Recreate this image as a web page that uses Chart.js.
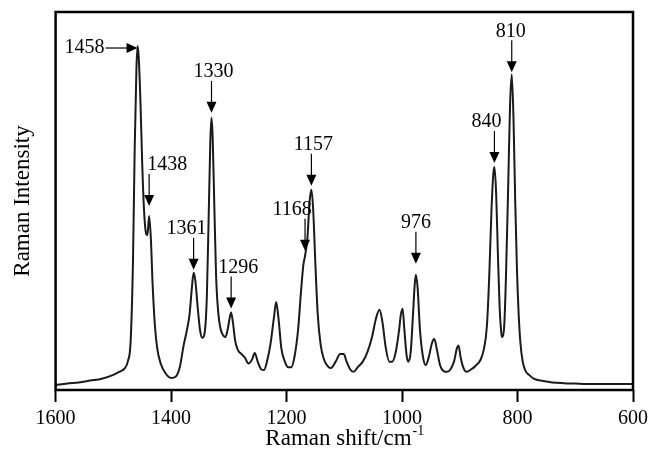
<!DOCTYPE html>
<html>
<head>
<meta charset="utf-8">
<script src="https://cdn.jsdelivr.net/npm/chart.js@4.4.0/dist/chart.umd.min.js"></script>
<style>
  body { margin: 0; background: #fff; }
  #spectrum { display: block; }
</style>
</head>
<body>
<canvas id="spectrum" width="649" height="452"></canvas>
<script>
// Raman spectrum, shift in cm-1 and relative intensity
const shifts = [
  1600, 1580, 1560, 1540, 1520, 1500, 1490, 1480, 1475, 1470, 1466, 1463, 1460, 1458, 1456,
  1453, 1450, 1447, 1444, 1441, 1438, 1435, 1432, 1428, 1424, 1418, 1410, 1400, 1392, 1385,
  1378, 1373, 1368, 1364, 1361, 1358, 1354, 1350, 1346, 1342, 1338, 1335, 1332, 1330, 1328,
  1325, 1322, 1318, 1314, 1310, 1306, 1302, 1298, 1296, 1293, 1289, 1284, 1278, 1272, 1266,
  1260, 1255, 1250, 1244, 1239, 1234, 1228, 1222, 1218, 1214, 1209, 1203, 1197, 1192, 1186,
  1180, 1175, 1171, 1168, 1164, 1160, 1157, 1154, 1150, 1146, 1141, 1135, 1128, 1123, 1115,
  1107, 1101, 1096, 1090, 1084, 1077, 1068, 1060, 1052, 1045, 1039, 1034, 1028, 1022, 1017,
  1011, 1005, 1002, 999, 996, 992, 989, 985, 981, 978, 976, 973, 969, 964, 959,
  954, 948, 944, 940, 934, 928, 922, 916, 910, 905, 902, 899, 894, 888, 880,
  872, 864, 858, 853, 849, 845, 842, 840, 837, 834, 831, 828, 826, 823, 820,
  816, 813, 810, 807, 804, 801, 798, 795, 791, 786, 780, 772, 760, 740, 720,
  700, 680, 660, 640, 620, 600
];
const intensity = [
  1.3, 1.7, 2.0, 2.5, 3.0, 4.0, 4.8, 5.8, 7.5, 13, 34, 64, 85, 91, 88,
  76, 60, 48, 42, 41, 46, 40, 28, 17, 11, 7, 4.5, 3.2, 3.5, 6,
  12, 15.5, 20, 27, 31, 29, 22, 16, 13.8, 15, 25, 45, 66, 72, 67,
  48, 30, 20, 16, 14.5, 14, 16, 19.5, 20.5, 18, 13, 10.5, 9.5, 8.5, 7,
  8, 9.8, 7.5, 5.5, 5.3, 7.5, 12, 19, 23.3, 19, 11, 7.5, 6, 6, 9,
  16, 26, 33, 35.5, 40, 50, 53, 48, 33, 20, 12, 8, 6.2, 5.8, 7.5,
  9.5, 9.5, 7.5, 5.5, 4.8, 6, 7.5, 10, 14, 19, 21.2, 18, 11, 7.5, 7.5,
  10, 16, 20, 21.5, 16, 9, 7.5, 10, 20, 28, 30.5, 27, 16, 9, 6.6,
  8.5, 12.5, 13.5, 11, 6.5, 5, 4.8, 5.5, 7.5, 11, 11.8, 9, 6, 4.8, 5.5,
  6.5, 8, 11, 17, 30, 48, 57, 59, 52, 36, 22, 15, 14, 17, 30,
  55, 75, 83.5, 72, 50, 32, 20, 12.5, 7.5, 5, 4, 3, 2.5, 2, 1.8,
  1.7, 1.6, 1.6, 1.6, 1.6, 1.6
];
const xTicks = [1600, 1400, 1200, 1000, 800, 600];

// assigned bands
const bandShifts = [1458, 1438, 1361, 1330, 1296, 1168, 1157, 976, 840, 810];
const bandLabels = bandShifts.map(String);

// label placement: horizontal offset of text from arrow, gap above the peak
const bandLayout = {
  1458: { side: 'left' },
  1438: { dx: 18, gap: 10 },
  1361: { dx: -7, gap: 3 },
  1330: { dx: 2, gap: 5 },
  1296: { dx: 7, gap: 4 },
  1168: { dx: -13, gap: 5 },
  1157: { dx: 2, gap: 4 },
  976: { dx: 0, gap: 11 },
  840: { dx: -8, gap: 4 },
  810: { dx: -1, gap: 2 }
};

const serif = "'Liberation Serif', 'Times New Roman', serif";

function arrowDown(ctx, x, tipY, len) {
  ctx.beginPath();
  ctx.moveTo(x, tipY - len);
  ctx.lineTo(x, tipY - 8);
  ctx.stroke();
  ctx.beginPath();
  ctx.moveTo(x, tipY);
  ctx.lineTo(x - 5, tipY - 11);
  ctx.lineTo(x + 5, tipY - 11);
  ctx.closePath();
  ctx.fill();
}

function arrowRight(ctx, x0, tipX, y) {
  ctx.beginPath();
  ctx.moveTo(x0, y);
  ctx.lineTo(tipX - 8, y);
  ctx.stroke();
  ctx.beginPath();
  ctx.moveTo(tipX, y);
  ctx.lineTo(tipX - 11, y - 5);
  ctx.lineTo(tipX - 11, y + 5);
  ctx.closePath();
  ctx.fill();
}

const frameAndLabels = {
  id: 'frameAndLabels',
  afterDraw(chart) {
    const ctx = chart.ctx;
    const area = chart.chartArea;
    const xs = chart.scales.x;
    const ys = chart.scales.y;
    ctx.save();

    // box round the plot
    ctx.strokeStyle = '#000';
    ctx.lineWidth = 2.5;
    ctx.strokeRect(area.left, area.top, area.right - area.left, area.bottom - area.top);

    // band labels with arrows
    ctx.fillStyle = '#000';
    ctx.strokeStyle = '#000';
    ctx.lineWidth = 1.2;
    ctx.font = '20px ' + serif;
    ctx.textBaseline = 'middle';
    bandShifts.forEach((s, i) => {
      const k = shifts.indexOf(s);
      const px = xs.getPixelForValue(s);
      const py = ys.getPixelForValue(intensity[k]);
      const lay = bandLayout[s];
      if (lay.side === 'left') {
        ctx.textAlign = 'right';
        ctx.fillText(bandLabels[i], px - 33, py + 2);
        arrowRight(ctx, px - 32, px, py + 2);
      } else {
        const tipY = py - lay.gap;
        arrowDown(ctx, px, tipY, 32);
        ctx.textAlign = 'center';
        ctx.fillText(bandLabels[i], px + lay.dx, tipY - 41);
      }
    });

    // x axis title with superscript
    const cx = (area.left + area.right) / 2;
    const ty = 437;
    ctx.font = '23px ' + serif;
    const main = 'Raman shift/cm';
    const w1 = ctx.measureText(main).width;
    ctx.font = '14px ' + serif;
    const sup = '-1';
    const w2 = ctx.measureText(sup).width;
    const x0 = cx - (w1 + w2) / 2;
    ctx.textAlign = 'left';
    ctx.textBaseline = 'alphabetic';
    ctx.font = '23px ' + serif;
    ctx.fillText(main, x0, ty + 8);
    ctx.font = '14px ' + serif;
    ctx.fillText(sup, x0 + w1 + 1, ty - 2);
    ctx.restore();
  }
};

const points = shifts.map((s, i) => ({ x: s, y: intensity[i] }));

new Chart(document.getElementById('spectrum'), {
  type: 'line',
  data: {
    datasets: [{
      data: points,
      borderColor: '#1a1a1a',
      borderWidth: 2,
      pointRadius: 0,
      fill: false,
      cubicInterpolationMode: 'monotone'
    }]
  },
  options: {
    responsive: false,
    animation: false,
    layout: { padding: { left: 5, right: 16, top: 12, bottom: 16 } },
    plugins: { legend: { display: false }, tooltip: { enabled: false } },
    scales: {
      x: {
        type: 'linear',
        reverse: true,
        min: 600,
        max: 1600,
        afterBuildTicks(scale) {
          scale.ticks = xTicks.map(v => ({ value: v }));
        },
        afterFit(scale) {
          // let the last tick label run into the page margin
          scale.paddingRight = 0;
        },
        ticks: {
          color: '#000',
          font: { family: serif, size: 20 },
          padding: 5,
          maxRotation: 0,
          callback: v => String(v)
        },
        grid: {
          drawOnChartArea: false,
          drawTicks: true,
          tickLength: 12,
          tickWidth: 2,
          tickColor: '#000'
        },
        border: { display: false }
      },
      y: {
        min: 0,
        max: 100,
        ticks: { display: false },
        grid: { display: false, drawTicks: false },
        border: { display: false },
        title: {
          display: true,
          text: 'Raman Intensity',
          color: '#000',
          font: { family: serif, size: 23 },
          padding: { top: 4, bottom: 19 }
        }
      }
    }
  },
  plugins: [frameAndLabels]
});
</script>
</body>
</html>
